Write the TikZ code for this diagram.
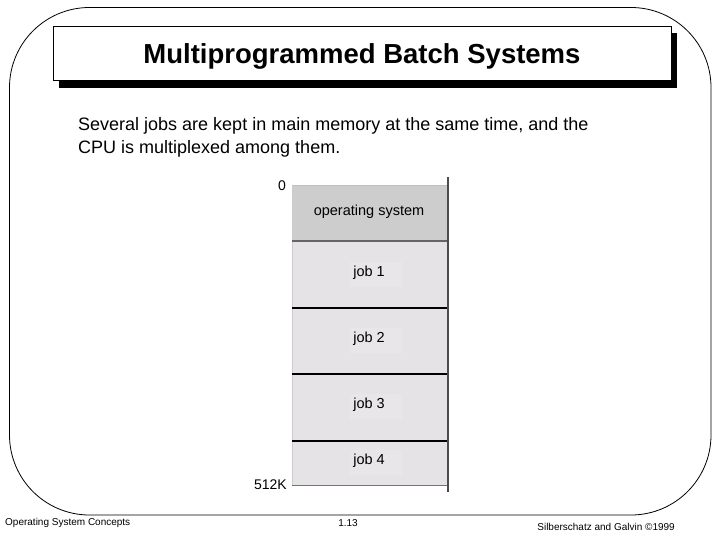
\documentclass[tikz,border=0pt]{standalone}
\usepackage{fontspec}
\setmainfont{Liberation Sans}
\definecolor{osgray}{HTML}{CDCDCD}
\definecolor{jobgray}{HTML}{E5E3E5}
\definecolor{lblgray}{HTML}{E8E6E8}
\tikzset{
  mframe/.style={draw=black, line width=0.8pt, rounded corners=80pt},
  titlebox/.style={draw=black, line width=1pt, fill=white},
  shadowbox/.style={fill=black, draw=none},
  memlabel/.style={font=\fontsize{14.5}{16}\selectfont, inner sep=2pt},
  joblabel/.style={memlabel},
  lblback/.style={fill=lblgray, draw=none},
  addrlabel/.style={font=\fontsize{14}{16}\selectfont, inner sep=0pt},
  footlabel/.style={font=\fontsize{10}{12}\selectfont, inner sep=0pt},
  jobsep/.style={draw=black, line width=2pt},
}
\begin{document}
\begin{tikzpicture}[x=1pt,y=-1pt]
\useasboundingbox (0,0) rectangle (720,540);
% outer frame
\draw[mframe] (9.5,7.5) rectangle (711,515);
% title
\fill[shadowbox] (59,33) rectangle (677,88);
\draw[titlebox] (53,27) rectangle (671,81);
\node[font=\fontsize{27.5}{30}\bfseries\selectfont, inner sep=0pt] (title) at (362,56) {Multiprogrammed Batch Systems};
% body text
\node[anchor=base west, font=\fontsize{18}{23}\selectfont, inner sep=0pt] (body1) at (78,131) {Several jobs are kept in main memory at the same time, and the};
\node[anchor=base west, font=\fontsize{18}{23}\selectfont, inner sep=0pt] (body2) at (78,154) {CPU is multiplexed among them.};
% memory
\fill[jobgray] (292,241) rectangle (448,485);
\fill[osgray] (292,185) rectangle (448,241);
\fill[lblback] (350,262) rectangle (402,287);
\fill[lblback] (350,328) rectangle (402,353);
\fill[lblback] (350,394) rectangle (402,419);
\fill[lblback] (350,450) rectangle (402,475);
\draw[draw=black!25, line width=0.6pt] (292,185) -- (448,185);
\draw[draw=black!20, line width=0.6pt] (292,185) -- (292,485);
\draw[draw=black!60, line width=1.2pt] (292,241) -- (448,241);
\draw[jobsep] (292,308) -- (448,308);
\draw[jobsep] (292,374) -- (448,374);
\draw[jobsep] (292,441) -- (448,441);
\draw[draw=black!55, line width=0.9pt] (292,485) -- (448,485);
\draw[draw=black!70, line width=1.3pt] (448,177) -- (448,492);
\node[memlabel] (os) at (369,212) {operating system};
\node[joblabel] (job1) at (369,273) {job 1};
\node[joblabel] (job2) at (369,339) {job 2};
\node[joblabel] (job3) at (369,405) {job 3};
\node[joblabel] (job4) at (369,461) {job 4};
\node[addrlabel] (a0) at (282,186) {0};
\node[addrlabel, anchor=east] (a512) at (287,485) {512K};
% footer
\node[footlabel, anchor=west] (f1) at (5,523) {Operating System Concepts};
\node[footlabel] (f2) at (348,523) {1.13};
\node[footlabel, anchor=east] (f3) at (675,527) {Silberschatz and Galvin \textcopyright1999};
\end{tikzpicture}
\end{document}
